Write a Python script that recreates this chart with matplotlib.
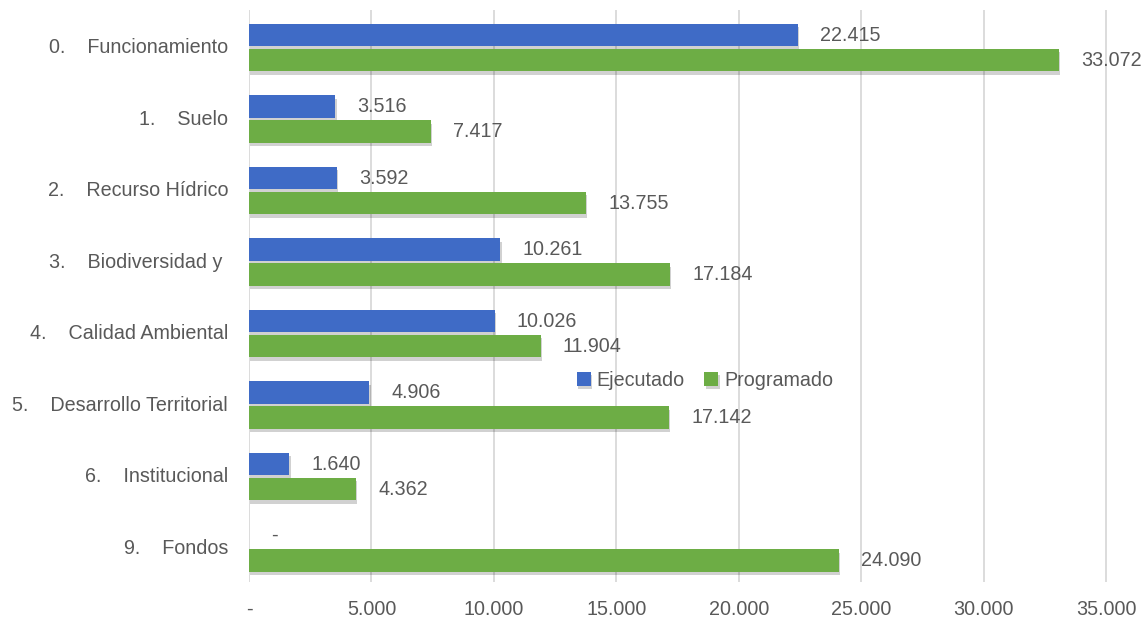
import matplotlib
matplotlib.use("Agg")
import matplotlib.pyplot as plt
import matplotlib.patheffects as pe
import numpy as np

categories = ["0.    Funcionamiento", "1.    Suelo", "2.    Recurso Hídrico",
              "3.    Biodiversidad y ", "4.    Calidad Ambiental",
              "5.    Desarrollo Territorial", "6.    Institucional", "9.    Fondos"]
ejecutado = [22415, 3516, 3592, 10261, 10026, 4906, 1640, 0]
programado = [33072, 7417, 13755, 17184, 11904, 17142, 4362, 24090]
xticks = [0, 5000, 10000, 15000, 20000, 25000, 30000, 35000]

def fmt(v):
    return "-" if v == 0 else f"{v:,.0f}".replace(",", ".")

plt.rcParams['font.family'] = ['Liberation Sans', 'DejaVu Sans']
txt = '#595959'
fs = 14.2

fig = plt.figure(figsize=(11.43, 6.22), dpi=100)
ax = fig.add_axes([249/1143, 1 - 582/622, (1143-249)/1143, 572/622])

y = np.arange(len(categories))
h = 0.31
off_e = -0.15
off_p = 0.20
shadow = [pe.SimplePatchShadow(offset=(1.0, -2.5), shadow_rgbFace='#000000', alpha=0.18), pe.Normal()]
b1 = ax.barh(y + off_e, ejecutado, height=h, color='#3F6BC6', label='Ejecutado', zorder=3)
b2 = ax.barh(y + off_p, programado, height=h, color='#6DAD45', label='Programado', zorder=3)
for b in list(b1) + list(b2):
    b.set_path_effects(shadow)

for yi, v in zip(y + off_e, ejecutado):
    ax.annotate(fmt(v), (v, yi), xytext=(16, 0), textcoords='offset points',
                va='center', ha='left', fontsize=fs, color=txt)
for yi, v in zip(y + off_p, programado):
    ax.annotate(fmt(v), (v, yi), xytext=(16, 0), textcoords='offset points',
                va='center', ha='left', fontsize=fs, color=txt)

ax.set_ylim(len(categories) - 0.5, -0.5)
ax.set_xlim(0, 36500)
ax.set_yticks(y)
ax.set_yticklabels(categories, fontsize=fs, color=txt)
ax.set_xticks(xticks)
ax.set_xticklabels([fmt(v) for v in xticks], fontsize=fs, color=txt)
ax.tick_params(axis='y', length=0, pad=15)
ax.tick_params(axis='x', length=0, pad=13)
ax.grid(axis='x', color='#D9D9D9', linewidth=1.3, zorder=0)
for s in ax.spines.values():
    s.set_visible(False)

leg = ax.legend(loc='center', bbox_to_anchor=(0.51, 0.353), ncol=2, frameon=False,
                fontsize=fs, handlelength=0.7, handleheight=0.7, handletextpad=0.3,
                columnspacing=1.0, labelcolor=txt)

fig.savefig("out.png", dpi=100)
